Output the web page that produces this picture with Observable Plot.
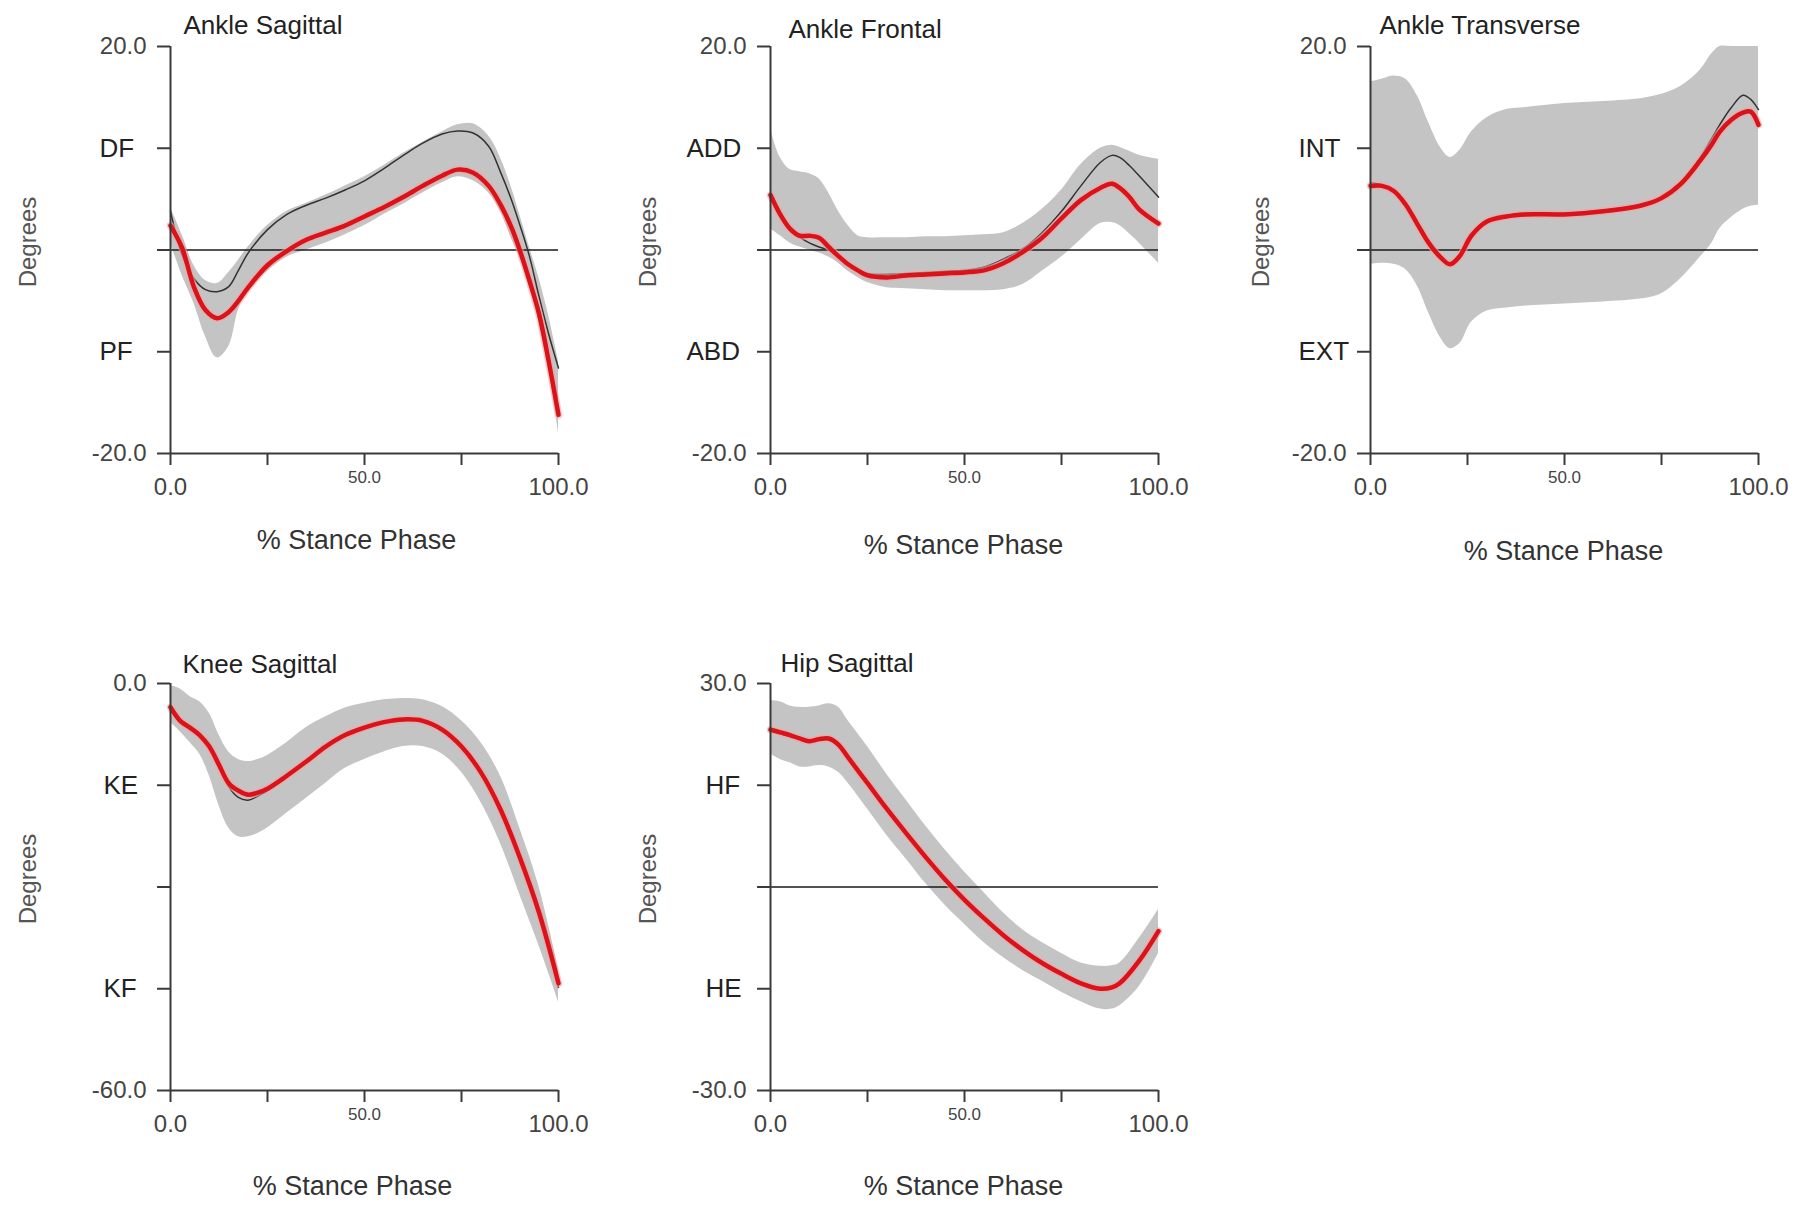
<!DOCTYPE html>
<html><head><meta charset="utf-8">
<script src="https://cdn.jsdelivr.net/npm/d3@7"></script>
<script src="https://cdn.jsdelivr.net/npm/@observablehq/plot@0.6"></script>
<style>
body{margin:0;background:#fff;}
#root{position:relative;width:1809px;height:1206px;overflow:hidden;background:#fff;font-family:"Liberation Sans",Arial,sans-serif;}
.panel{position:absolute;}
</style></head><body><div id="root"></div>
<script>
// ---------- shared axis data ----------
const stanceTicks = [0, 25, 50, 75, 100];
const stanceBigLabels = [0, 100];
const stanceBigText = ["0.0", "100.0"];
const stanceSmallLabels = [50];
const stanceSmallText = ["50.0"];
const xAxisTitle = "% Stance Phase";
const yAxisTitle = "Degrees";

// ---------- Ankle Sagittal ----------
const ankleSagX =     [0, 3, 6, 9, 12, 15, 17.5, 20, 25, 30, 35, 40, 45, 50, 55, 60, 65, 70, 74, 78, 82, 85, 88, 90, 92.5, 95, 97.5, 100];
const ankleSagRed =   [2.4, 0.2, -3.6, -5.9, -6.7, -6.1, -5.0, -3.7, -1.5, -0.1, 1.0, 1.7, 2.4, 3.3, 4.2, 5.2, 6.3, 7.3, 7.9, 7.6, 6.3, 4.5, 2.1, 0, -3.0, -6.3, -11.0, -16.2];
const ankleSagBlack = [3.8, -0.5, -2.8, -3.9, -4.1, -3.6, -2.0, -0.3, 2.0, 3.5, 4.4, 5.1, 5.9, 6.8, 8.0, 9.3, 10.5, 11.4, 11.7, 11.5, 10.2, 7.7, 4.8, 2.5, -0.6, -4.6, -8.3, -11.6];
const ankleSagUpper = [4.2, 1.5, -1.5, -3.0, -3.3, -2.2, -1.0, 0.3, 2.4, 3.8, 4.6, 5.4, 6.3, 7.2, 8.3, 9.5, 10.6, 11.6, 12.3, 12.4, 11.2, 9.1, 6.0, 3.5, 0.3, -2.8, -6.5, -10.9];
const ankleSagLower = [0.7, -2.5, -5.2, -8.5, -10.6, -9.5, -5.9, -3.9, -2.1, -0.7, 0, 0.7, 1.5, 2.4, 3.5, 4.5, 5.6, 6.6, 7.2, 6.8, 5.6, 3.8, 1.0, -0.7, -3.5, -7.1, -11.5, -18.0];
const ankleSagTicks = [20, 10, 0, -10, -20];
const ankleSagNum = [20, -20];
const ankleSagNumText = ["20.0", "-20.0"];
const ankleSagCat = [10, -10];
const ankleSagCatText = ["DF", "PF"];

// ---------- Ankle Frontal ----------
const ankleFrontX =     [0, 2.5, 5, 7.5, 10, 12.5, 15, 17.5, 20, 22.5, 25, 30, 35, 40, 45, 50, 55, 60, 65, 70, 75, 80, 85, 88, 90, 92.5, 95, 100];
const ankleFrontRed =   [5.4, 3.5, 2.1, 1.4, 1.4, 1.2, 0.3, -0.6, -1.4, -2.0, -2.5, -2.7, -2.5, -2.4, -2.3, -2.2, -2.0, -1.3, -0.2, 1.2, 3.1, 4.9, 6.1, 6.5, 6.1, 5.2, 4.0, 2.6];
const ankleFrontBlack = [5.4, 3.4, 2.1, 1.3, 0.7, 0.3, 0, -0.6, -1.3, -1.9, -2.3, -2.4, -2.3, -2.2, -2.1, -2.0, -1.7, -0.9, 0.1, 1.7, 3.8, 6.3, 8.6, 9.3, 9.1, 8.3, 7.3, 5.2];
const ankleFrontUpper = [11.9, 9.1, 7.9, 7.7, 7.5, 7.0, 5.6, 3.8, 2.4, 1.4, 1.2, 1.2, 1.2, 1.3, 1.3, 1.4, 1.5, 1.7, 2.6, 4.0, 5.9, 8.4, 10.0, 10.3, 10.1, 9.7, 9.3, 8.9];
const ankleFrontLower = [2.1, 1.4, 0.7, 0.3, 0, -0.3, -0.7, -1.3, -2.1, -2.7, -3.2, -3.7, -3.8, -3.9, -4.0, -4.0, -4.0, -3.9, -3.4, -2.1, -0.7, 1.0, 2.6, 2.7, 2.4, 1.6, 0.7, -1.3];
const ankleFrontTicks = [20, 10, 0, -10, -20];
const ankleFrontNum = [20, -20];
const ankleFrontNumText = ["20.0", "-20.0"];
const ankleFrontCat = [10, -10];
const ankleFrontCatText = ["ADD", "ABD"];

// ---------- Ankle Transverse ----------
const ankleTransX =     [0, 3, 6, 9, 12, 15, 18, 20.5, 23, 26, 30, 35, 40, 50, 60, 70, 75, 80, 85, 88, 90, 93, 96, 98, 100];
const ankleTransRed =   [6.3, 6.3, 5.8, 4.5, 2.6, 0.7, -0.7, -1.4, -0.6, 1.4, 2.8, 3.3, 3.5, 3.5, 3.8, 4.4, 5.1, 6.5, 8.8, 10.4, 11.6, 12.8, 13.5, 13.6, 12.3];
const ankleTransBlack = [6.6, 6.4, 5.9, 4.6, 2.7, 0.8, -0.6, -1.3, -0.5, 1.5, 2.9, 3.4, 3.6, 3.6, 3.9, 4.5, 5.2, 6.7, 9.1, 11.0, 12.3, 14.0, 15.2, 14.8, 13.8];
const ankleTransUpper = [16.5, 16.8, 17.1, 16.8, 15.2, 12.5, 10.1, 9.1, 9.8, 11.6, 13.0, 13.8, 14.0, 14.4, 14.6, 14.9, 15.3, 16.1, 17.7, 19.3, 20, 20, 20, 20, 20];
const ankleTransLower = [-1.4, -1.3, -1.4, -1.9, -3.5, -6.2, -8.6, -9.7, -9.2, -7.1, -6.0, -5.7, -5.5, -5.3, -5.1, -4.8, -4.3, -2.8, -0.7, 0.7, 2.1, 3.2, 4.0, 4.3, 4.4];
const ankleTransTicks = [20, 10, 0, -10, -20];
const ankleTransNum = [20, -20];
const ankleTransNumText = ["20.0", "-20.0"];
const ankleTransCat = [10, -10];
const ankleTransCatText = ["INT", "EXT"];

// ---------- Knee Sagittal ----------
const kneeSagX =     [0, 2.5, 5, 7.5, 10, 12.5, 15, 17.5, 20, 22.5, 25, 30, 35, 40, 45, 50, 55, 60, 65, 70, 75, 80, 85, 90, 95, 100];
const kneeSagRed =   [-3.5, -5.5, -6.5, -7.6, -9.3, -12.0, -14.7, -15.8, -16.4, -16.1, -15.5, -13.6, -11.5, -9.3, -7.6, -6.5, -5.7, -5.3, -5.5, -6.8, -9.3, -13.1, -18.5, -25.6, -33.8, -44.2];
const kneeSagBlack = [-3.5, -5.4, -6.4, -7.5, -9.2, -12.0, -15.2, -16.8, -17.2, -16.6, -15.8, -13.7, -11.5, -9.3, -7.6, -6.5, -5.7, -5.3, -5.5, -6.8, -9.3, -13.1, -18.6, -25.8, -34.2, -44.8];
const kneeSagUpper = [-0.3, -0.8, -1.9, -2.7, -4.4, -7.6, -10.1, -11.2, -11.5, -11.2, -10.6, -8.7, -6.5, -4.9, -3.6, -2.9, -2.4, -2.2, -2.4, -3.4, -5.5, -8.7, -13.6, -21.3, -30.0, -42.0];
const kneeSagLower = [-5.7, -7.1, -8.7, -10.4, -13.6, -18.0, -21.3, -22.6, -22.6, -22.1, -21.3, -19.1, -16.9, -14.7, -12.5, -11.2, -10.1, -9.3, -9.3, -10.4, -13.1, -17.5, -23.5, -31.1, -38.7, -46.9];
const kneeSagTicks = [0, -15, -30, -45, -60];
const kneeSagNum = [0, -60];
const kneeSagNumText = ["0.0", "-60.0"];
const kneeSagCat = [-15, -45];
const kneeSagCatText = ["KE", "KF"];

// ---------- Hip Sagittal ----------
const hipSagX =     [0, 2.5, 5, 7.5, 10, 12.5, 15, 17.5, 20, 25, 30, 35, 40, 45, 50, 55, 60, 65, 70, 75, 80, 85, 88, 90, 95, 100];
const hipSagRed =   [23.2, 22.8, 22.4, 21.9, 21.5, 21.8, 21.9, 21.0, 19.1, 15.3, 11.5, 7.9, 4.4, 1.1, -1.9, -4.6, -7.1, -9.3, -11.2, -12.8, -14.2, -15.0, -14.8, -14.2, -10.9, -6.5];
const hipSagBlack = [23.0, 22.6, 22.2, 21.8, 21.4, 21.6, 21.7, 20.8, 19.0, 15.3, 11.6, 8.0, 4.5, 1.2, -1.8, -4.5, -7.0, -9.2, -11.1, -12.7, -14.1, -14.9, -14.8, -14.2, -11.0, -6.6];
const hipSagUpper = [27.5, 27.3, 26.7, 26.5, 26.5, 26.7, 27.0, 26.5, 24.5, 20.7, 16.6, 12.8, 9.0, 5.5, 2.2, -0.8, -3.8, -6.3, -8.2, -9.8, -11.2, -11.7, -11.6, -11.2, -7.6, -3.3];
const hipSagLower = [19.6, 18.8, 18.3, 17.7, 17.7, 17.9, 17.7, 16.9, 15.3, 11.5, 7.6, 4.1, 0.5, -2.7, -5.5, -8.2, -10.4, -12.3, -13.9, -15.5, -16.9, -18.0, -18.0, -17.5, -14.7, -9.8];
const hipSagTicks = [30, 15, 0, -15, -30];
const hipSagNum = [30, -30];
const hipSagNumText = ["30.0", "-30.0"];
const hipSagCat = [15, -15];
const hipSagCatText = ["HF", "HE"];

// ---------- panel setup ----------
const panels = [
  {title: "Ankle Sagittal", x: ankleSagX, red: ankleSagRed, black: ankleSagBlack, upper: ankleSagUpper, lower: ankleSagLower,
   domain: [-20, 20], ticks: ankleSagTicks, num: ankleSagNum, numText: ankleSagNumText, cat: ankleSagCat, catText: ankleSagCatText,
   zero: true, left: 10, top: 0, titleDx: 13, titleDy: -21, catDx: -71, degDx: -142, xlabDx: -8, xlabDy: 87},
  {title: "Ankle Frontal", x: ankleFrontX, red: ankleFrontRed, black: ankleFrontBlack, upper: ankleFrontUpper, lower: ankleFrontLower,
   domain: [-20, 20], ticks: ankleFrontTicks, num: ankleFrontNum, numText: ankleFrontNumText, cat: ankleFrontCat, catText: ankleFrontCatText,
   zero: true, left: 610, top: 0, titleDx: 18, titleDy: -17, catDx: -84, degDx: -122, xlabDx: -1, xlabDy: 92},
  {title: "Ankle Transverse", x: ankleTransX, red: ankleTransRed, black: ankleTransBlack, upper: ankleTransUpper, lower: ankleTransLower,
   domain: [-20, 20], ticks: ankleTransTicks, num: ankleTransNum, numText: ankleTransNumText, cat: ankleTransCat, catText: ankleTransCatText,
   zero: true, left: 1210, top: 0, titleDx: 9, titleDy: -21, catDx: -72, degDx: -109, xlabDx: -1, xlabDy: 98},
  {title: "Knee Sagittal", x: kneeSagX, red: kneeSagRed, black: kneeSagBlack, upper: kneeSagUpper, lower: kneeSagLower,
   domain: [-60, 0], ticks: kneeSagTicks, num: kneeSagNum, numText: kneeSagNumText, cat: kneeSagCat, catText: kneeSagCatText,
   zero: false, left: 10, top: 637, titleDx: 12, titleDy: -19, catDx: -67, degDx: -142, xlabDx: -12, xlabDy: 96},
  {title: "Hip Sagittal", x: hipSagX, red: hipSagRed, black: hipSagBlack, upper: hipSagUpper, lower: hipSagLower,
   domain: [-30, 30], ticks: hipSagTicks, num: hipSagNum, numText: hipSagNumText, cat: hipSagCat, catText: hipSagCatText,
   zero: true, left: 610, top: 637, titleDx: 10, titleDy: -20, catDx: -65, degDx: -122, xlabDx: -1, xlabDy: 96}
];

const mL = 160, mT = 46, mR = 30, mB = 120, FW = 388, FH = 407;
const root = document.getElementById("root");
const axisColor = "#3a3a3a";

for (const cfg of panels) {
  const rows = cfg.x.map((x, i) => ({x, red: cfg.red[i], black: cfg.black[i], lo: cfg.lower[i], hi: cfg.upper[i]}));
  const ymin = cfg.domain[0];
  const marks = [
    Plot.areaY(rows, {x: "x", y1: "lo", y2: "hi", fill: "#c4c4c4", curve: "catmull-rom"}),
    cfg.zero ? Plot.ruleY([0], {stroke: "#1a1a1a", strokeWidth: 1.6}) : null,
    Plot.line(rows, {x: "x", y: "black", stroke: "#333", strokeWidth: 1.5, curve: "catmull-rom"}),
    Plot.line(rows, {x: "x", y: "red", stroke: "#f2a3a3", strokeWidth: 7.5, strokeOpacity: 0.6, curve: "catmull-rom"}),
    Plot.line(rows, {x: "x", y: "red", stroke: "#da131b", strokeWidth: 4.5, curve: "catmull-rom"}),
    Plot.ruleX([0], {stroke: axisColor, strokeWidth: 2}),
    Plot.ruleY([ymin], {stroke: axisColor, strokeWidth: 2}),
    Plot.axisY({ticks: cfg.ticks, tickSize: 13, tickFormat: () => "", label: null, stroke: axisColor, strokeWidth: 2}),
    Plot.axisX({ticks: stanceTicks, tickSize: 12, tickFormat: () => "", label: null, stroke: axisColor, strokeWidth: 2}),
    Plot.text(cfg.num, {y: d => d, text: (d, i) => cfg.numText[i], frameAnchor: "left", textAnchor: "end", lineAnchor: "middle", dx: -24, fontSize: 24, fill: "#444"}),
    Plot.text(cfg.cat, {y: d => d, text: (d, i) => cfg.catText[i], frameAnchor: "left", textAnchor: "start", lineAnchor: "middle", dx: cfg.catDx, fontSize: 26, fill: "#222"}),
    Plot.text(stanceBigLabels, {x: d => d, text: (d, i) => stanceBigText[i], frameAnchor: "bottom", textAnchor: "middle", lineAnchor: "middle", dy: 34, fontSize: 24, fill: "#444"}),
    Plot.text(stanceSmallLabels, {x: d => d, text: (d, i) => stanceSmallText[i], frameAnchor: "bottom", textAnchor: "middle", lineAnchor: "middle", dy: 24, fontSize: 17, fill: "#444"}),
    Plot.text([cfg.title], {text: d => d, frameAnchor: "top-left", textAnchor: "start", lineAnchor: "middle", dx: cfg.titleDx, dy: cfg.titleDy, fontSize: 26, fill: "#222"}),
    Plot.text([yAxisTitle], {text: d => d, frameAnchor: "left", textAnchor: "middle", lineAnchor: "middle", rotate: -90, dx: cfg.degDx, dy: -8, fontSize: 24, fill: "#555"}),
    Plot.text([xAxisTitle], {text: d => d, frameAnchor: "bottom", textAnchor: "middle", lineAnchor: "middle", dx: cfg.xlabDx, dy: cfg.xlabDy, fontSize: 27, fill: "#333"})
  ].filter(Boolean);

  const chart = Plot.plot({
    width: mL + FW + mR,
    height: mT + FH + mB,
    marginLeft: mL, marginTop: mT, marginRight: mR, marginBottom: mB,
    x: {domain: [0, 100]},
    y: {domain: cfg.domain},
    style: {fontFamily: "'Liberation Sans', Arial, sans-serif", background: "transparent", overflow: "visible"},
    marks
  });
  const wrap = document.createElement("div");
  wrap.className = "panel";
  wrap.style.left = cfg.left + "px";
  wrap.style.top = cfg.top + "px";
  wrap.appendChild(chart);
  root.appendChild(wrap);
}
</script></body></html>
